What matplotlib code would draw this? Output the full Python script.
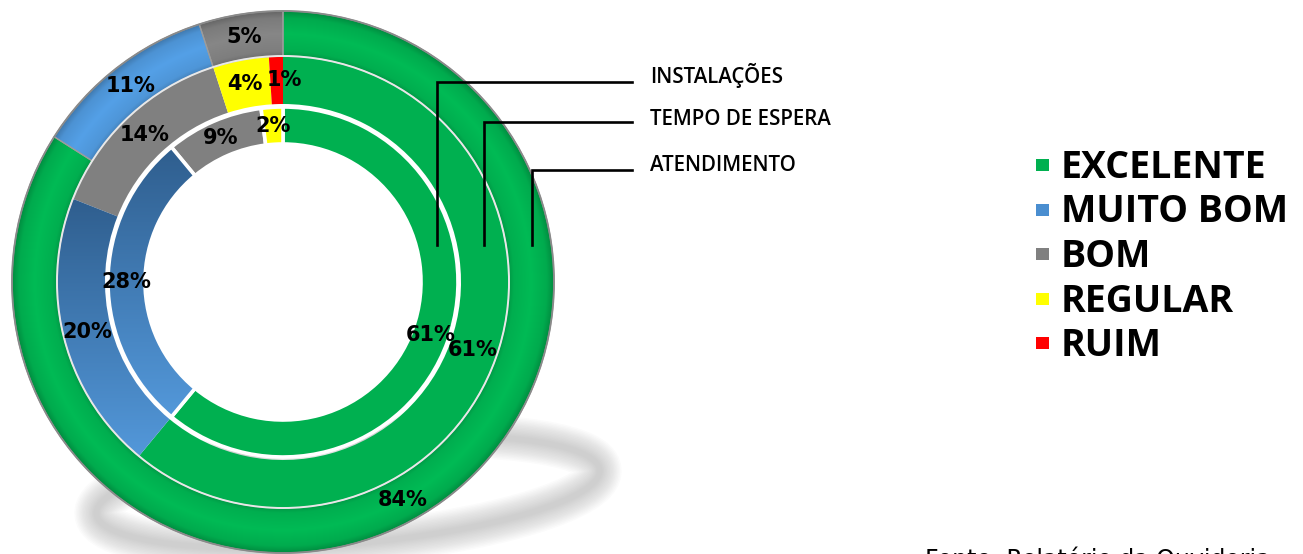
import numpy as np
import matplotlib
matplotlib.use("Agg")
import matplotlib.pyplot as plt
from matplotlib.patches import Ellipse, Rectangle, Circle
from matplotlib.colors import to_rgb

# ---------------- data ----------------
categories = ["EXCELENTE", "MUITO BOM", "BOM", "REGULAR", "RUIM"]
cat_colors = ["#00B050", "#4A8ED0", "#808080", "#FFFF00", "#FF0000"]
series_names = ["INSTALAÇÕES", "TEMPO DE ESPERA", "ATENDIMENTO"]
instalacoes = [61, 28, 9, 2, 0]
tempo_espera = [61, 20, 14, 4, 1]
atendimento = [84, 11, 5, 0, 0]
source_text = "Fonte: Relatório da Ouvidoria"

# ---------------- figure ----------------
W, H = 1303, 554
fig = plt.figure(figsize=(W / 100, H / 100), dpi=100)
ax = fig.add_axes([0, 0, 1, 1])


def P(x, y):
    """pixel (top-left origin) -> data coords"""
    return x, H - y


CX, CY = P(283, 282)

# shadow (soft elliptical ring)
scx, scy = P(348, 492)
for lw in np.linspace(44, 6, 14):
    ax.add_patch(Ellipse((scx, scy), 505, 104, angle=5, fill=False,
                         edgecolor="#8a8a8a", lw=lw * 0.72, alpha=0.03,
                         zorder=0.5))

label_props = dict(fontsize=15, fontweight="bold", color="black",
                   family="DejaVu Sans")


def draw_ring(vals, R, w, edgecolor, lw):
    idx = [i for i, v in enumerate(vals) if v > 0]
    v = [vals[i] for i in idx]
    c = [cat_colors[i] for i in idx]
    wedges, _, autotexts = ax.pie(
        v, radius=R, center=(CX, CY), startangle=90, counterclock=False,
        colors=c, wedgeprops=dict(width=w, edgecolor=edgecolor, linewidth=lw),
        autopct="%1.0f%%", pctdistance=(R - w / 2) / R,
        textprops=label_props)
    for t in autotexts:
        t.set_zorder(5)
    return idx, wedges, autotexts


def radial_shade(wedge, base, R, w):
    n = 700
    xs = np.linspace(CX - R, CX + R, n)
    ys = np.linspace(CY - R, CY + R, n)
    X, Y = np.meshgrid(xs, ys)
    r = np.hypot(X - CX, Y - CY)
    t = np.clip((r - (R - w)) / w, 0, 1)
    f = np.interp(t, [0, 0.12, 0.5, 0.85, 1.0], [0.86, 0.99, 1.06, 0.97, 0.80])
    rgb = np.clip(np.array(to_rgb(base))[None, None, :] * f[..., None], 0, 1)
    im = ax.imshow(rgb, extent=(CX - R, CX + R, CY - R, CY + R), origin="lower",
                   interpolation="bilinear", aspect="auto", zorder=1.5)
    im.set_clip_path(wedge)
    wedge.set_facecolor("none")
    wedge.set_zorder(2)


def vertical_shade(wedge, top, bottom):
    bb = wedge.get_path().get_extents()
    n = 300
    t = np.linspace(0, 1, n)[:, None]  # 0 bottom -> 1 top
    c0 = np.array(to_rgb(bottom))
    c1 = np.array(to_rgb(top))
    rgb = (c0[None, None, :] * (1 - t[..., None]) + c1[None, None, :] * t[..., None])
    rgb = np.repeat(rgb, 4, axis=1)
    im = ax.imshow(rgb, extent=(bb.x0, bb.x1, bb.y0, bb.y1), origin="lower",
                   interpolation="bilinear", aspect="auto", zorder=1.5)
    im.set_clip_path(wedge)
    wedge.set_facecolor("none")
    wedge.set_zorder(2)


# outer ring: ATENDIMENTO
R_out, w_out = 271, 45
idx_o, wed_o, _ = draw_ring(atendimento, R_out, w_out, "#9c9c9c", 0.9)
outer_base = {0: "#00B050", 1: "#4F97DA", 2: "#7F7F7F"}
for i, wd in zip(idx_o, wed_o):
    radial_shade(wd, outer_base[i], R_out, w_out)

# middle ring: TEMPO DE ESPERA
R_mid, w_mid = 226, 48
idx_m, wed_m, txt_m = draw_ring(tempo_espera, R_mid, w_mid, "none", 0)
for i, wd, tx in zip(idx_m, wed_m, txt_m):
    if i == 1:
        vertical_shade(wd, "#2F5E8E", "#5398DA")
    if i == 4:  # small "1%" label nudged right, as in the original
        x, y = tx.get_position()
        tx.set_position((x + 8, y))

# inner ring: INSTALAÇÕES
R_in, w_in = 175, 37
idx_i, wed_i, _ = draw_ring(instalacoes, R_in, w_in, "white", 2.6)
for i, wd in zip(idx_i, wed_i):
    if i == 1:
        vertical_shade(wd, "#2F5E8E", "#5398DA")

# ring outlines
ax.add_patch(Circle((CX, CY), R_out, fill=False, edgecolor="#8a8a8a", lw=1.3, zorder=3))
ax.add_patch(Circle((CX, CY), R_mid, fill=False, edgecolor="#e8e8e8", lw=1.4, zorder=3))

# leader lines and series names
leader_x = [437, 484, 532]
leader_y = [82, 122, 170]
name_base = [83, 125, 171]
for name, lx, ly, nb in zip(series_names, leader_x, leader_y, name_base):
    xs, ys = zip(P(lx, 245), P(lx, ly), P(632, ly))
    ax.plot(xs, ys, color="black", lw=1.9, solid_joinstyle="miter", zorder=4)
    ax.text(*P(650, nb), name, fontsize=14.8, fontweight="semibold",
            family=["Open Sans", "DejaVu Sans"], va="baseline", ha="left",
            color="black")

# legend
for k, (cat, col) in enumerate(zip(categories, cat_colors)):
    base = 178 + 44.5 * k
    sx, sy = P(1036, base - 7)
    ax.add_patch(Rectangle((sx, sy), 13, 12, facecolor=col, edgecolor="none"))
    ax.text(*P(1061, base), cat, fontsize=27, fontweight="bold",
            family=["Open Sans", "DejaVu Sans"], va="baseline", ha="left",
            color="black")

# source (cut by the figure border as in the original)
ax.text(*P(925, 567), source_text, fontsize=17, family="DejaVu Sans",
        va="baseline", ha="left", color="black")

ax.set_xlim(0, W)
ax.set_ylim(0, H)
ax.set_aspect("auto")
ax.axis("off")
fig.savefig("out.png", dpi=100)
